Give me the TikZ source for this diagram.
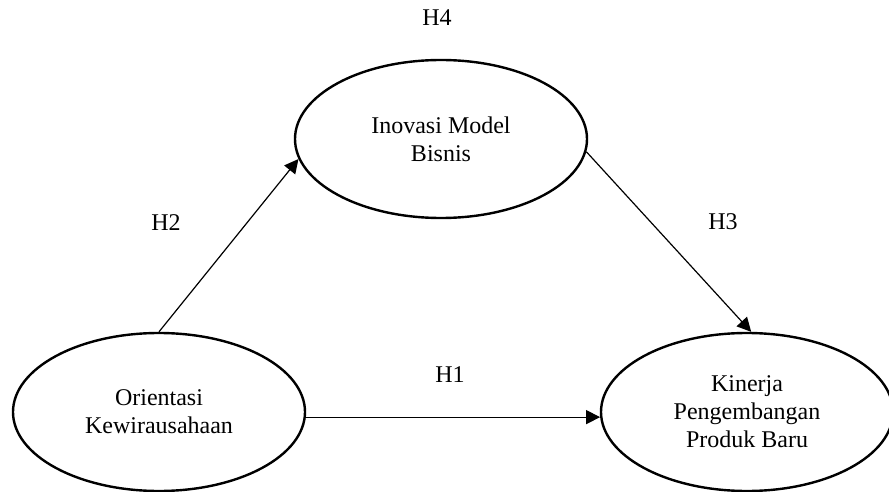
\documentclass[tikz,border=0pt]{standalone}
\usepackage{fontspec}
\setmainfont{Liberation Serif}
\usepackage{tikz}
\usetikzlibrary{shapes.geometric,arrows.meta}

\tikzset{
    variabel/.style={ellipse, draw, line width=1.2pt, minimum width=146pt, minimum height=79pt,
        inner sep=0pt, align=center, font=\fontsize{12}{14}\selectfont},
    hipotesis/.style={-{Triangle[length=7pt,width=7pt]}, line width=0.6pt},
    kode/.style={font=\fontsize{12}{14}\selectfont}
}

\begin{document}
\begin{tikzpicture}[x=0.5pt,y=-0.5pt]
\useasboundingbox (0,0) rectangle (889,492);
% variabel
\node[variabel] (imb) at (441,139) {Inovasi Model\\Bisnis};
\node[variabel] (ok) at (159,412) {Orientasi\\Kewirausahaan};
\node[variabel] (kppb) at (747,412) {Kinerja\\Pengembangan\\Produk Baru};
% hipotesis
\draw[hipotesis] (ok.north) -- (imb.188);
\draw[hipotesis] (imb.-5) -- (kppb.87);
\draw[hipotesis] (ok.-2) -- (kppb.182);
% label
\node[kode] (h1) at (450,375) {H1};
\node[kode] (h2) at (166,223) {H2};
\node[kode] (h3) at (723,222) {H3};
\node[kode] (h4) at (437,18) {H4};
\end{tikzpicture}
\end{document}
